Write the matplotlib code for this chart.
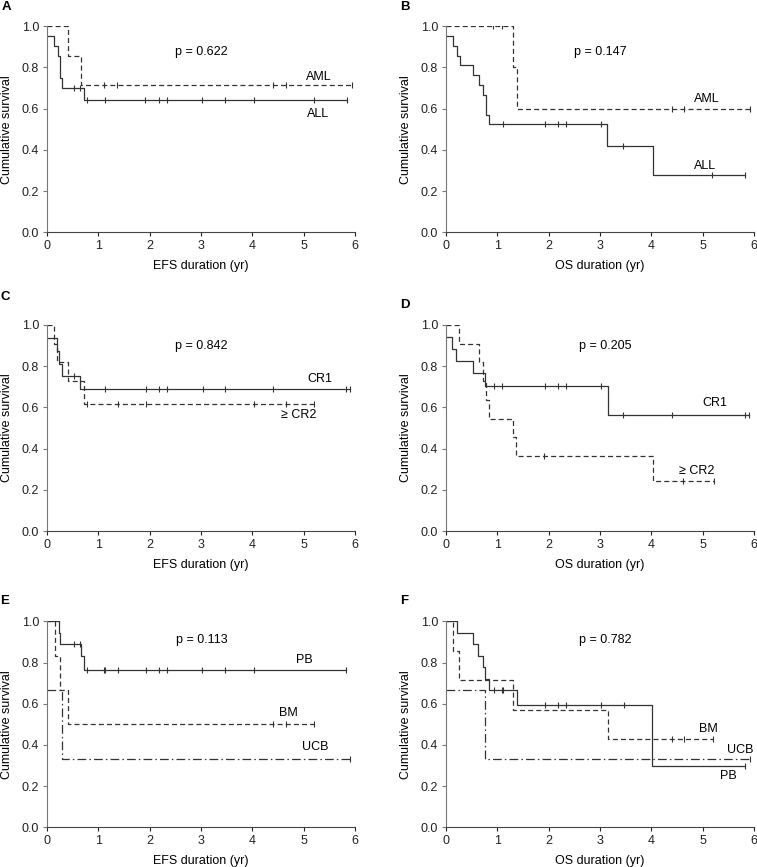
import numpy as np
import matplotlib
matplotlib.use('Agg')
import matplotlib.pyplot as plt

plt.rcParams['font.family'] = ['Liberation Sans', 'DejaVu Sans']
plt.rcParams['font.size'] = 9

# --- data (time in yr, survival after each step) ---
# A: EFS by disease
a_all_t = [0, 0.15, 0.22, 0.25, 0.29, 0.73]
a_all_s = [0.952, 0.905, 0.857, 0.75, 0.70, 0.64]
a_all_c = [0.53, 0.65, 0.78, 1.13, 1.92, 2.18, 2.33, 3.03, 3.47, 4.04, 5.20, 5.85]
a_aml_t = [0, 0.41, 0.67]
a_aml_s = [1.0, 0.857, 0.714]
a_aml_c = [1.12, 1.37, 4.41, 4.65, 5.94]

# B: OS by disease
b_all_t = [0, 0.14, 0.22, 0.27, 0.54, 0.64, 0.73, 0.78, 0.84, 3.14, 4.03]
b_all_s = [0.952, 0.905, 0.857, 0.810, 0.762, 0.714, 0.667, 0.571, 0.524, 0.419, 0.279]
b_all_c = [1.12, 1.93, 2.19, 2.33, 3.03, 3.45, 5.18, 5.82]
b_aml_t = [0, 1.30, 1.38]
b_aml_s = [1.0, 0.8, 0.6]
b_aml_c = [0.92, 1.10, 4.41, 4.64, 5.92]

# C: EFS by disease status
c_cr1_t = [0, 0.21, 0.24, 0.29, 0.65]
c_cr1_s = [0.9375, 0.875, 0.8125, 0.75, 0.6875]
c_cr1_c = [0.53, 1.13, 1.93, 2.18, 2.33, 3.04, 3.47, 4.41, 5.83, 5.90]
c_cr2_t = [0, 0.15, 0.21, 0.42, 0.72]
c_cr2_s = [1.0, 0.909, 0.818, 0.727, 0.618]
c_cr2_c = [0.79, 1.39, 1.93, 4.04, 4.65, 5.20]

# D: OS by disease status
d_cr1_t = [0, 0.12, 0.21, 0.53, 0.77, 3.15]
d_cr1_s = [0.941, 0.882, 0.824, 0.765, 0.706, 0.565]
d_cr1_c = [0.94, 1.10, 1.93, 2.19, 2.33, 3.03, 3.45, 4.41, 5.82, 5.89]
d_cr2_t = [0, 0.25, 0.64, 0.73, 0.79, 0.84, 1.30, 1.37, 4.03]
d_cr2_s = [1.0, 0.909, 0.818, 0.727, 0.636, 0.545, 0.455, 0.364, 0.242]
d_cr2_c = [1.92, 4.62, 5.21]

# E: EFS by stem cell source
e_pb_t = [0, 0.24, 0.26, 0.67, 0.73]
e_pb_s = [1.0, 0.944, 0.889, 0.833, 0.762]
e_pb_c = [0.53, 0.65, 0.78, 1.11, 1.14, 1.39, 1.93, 2.18, 2.33, 3.03, 3.47, 4.04, 5.83]
e_bm_t = [0, 0.16, 0.26, 0.42]
e_bm_s = [1.0, 0.833, 0.667, 0.5]
e_bm_c = [4.41, 4.65, 5.20]
e_ucb_t = [0, 0.30]
e_ucb_s = [0.667, 0.333]
e_ucb_c = [5.90]

# F: OS by stem cell source
f_pb_t = [0, 0.22, 0.53, 0.63, 0.72, 0.76, 0.84, 1.38, 4.02]
f_pb_s = [1.0, 0.944, 0.889, 0.833, 0.778, 0.722, 0.667, 0.593, 0.296]
f_pb_c = [0.94, 1.10, 1.12, 1.93, 2.19, 2.33, 3.03, 3.47, 5.82]
f_bm_t = [0, 0.15, 0.25, 1.31, 3.15]
f_bm_s = [1.0, 0.857, 0.714, 0.571, 0.429]
f_bm_c = [4.41, 4.64, 5.19]
f_ucb_t = [0, 0.77]
f_ucb_s = [0.667, 0.333]
f_ucb_c = [5.92]

SOLID = '-'
DASH = (0, (4, 2.5))
DDOT = (0, (7, 2.5, 1.2, 2.5))
LC = '#333333'


def km(ax, t, s, c, ls):
    end = max(c) if c else t[-1]
    ax.step(list(t) + [end], list(s) + [s[-1]], where='post',
            color=LC, lw=0.9, ls=ls)
    idx = np.searchsorted(t, c, side='right') - 1
    ax.plot(c, np.array(s)[idx], ls='none', marker='|', ms=4.5,
            mew=0.8, color=LC)


def setup(ax, xlabel):
    ax.set_xlim(0, 6)
    ax.set_ylim(0, 1)
    ax.set_xticks(range(7))
    ax.set_yticks(np.arange(0, 1.01, 0.2))
    ax.set_yticklabels(['%.1f' % v for v in np.arange(0, 1.01, 0.2)])
    ax.spines['top'].set_visible(False)
    ax.spines['right'].set_visible(False)
    ax.spines['left'].set_color('#777777')
    ax.spines['bottom'].set_color('#444444')
    ax.tick_params(length=3, width=0.8, pad=2.5, colors='#222222')
    ax.tick_params(axis='y', color='#777777')
    ax.set_xlabel(xlabel, labelpad=6)
    ax.set_ylabel('Cumulative survival', labelpad=6)


fig = plt.figure(figsize=(7.57, 8.67), dpi=100)
W, H = 757.0, 867.0
lefts = [46.7, 445.7]
tops = [26.3, 325.0, 621.3]
aw, ah = 308.5, 206.0
axes = []
for r in range(3):
    for col in range(2):
        axes.append(fig.add_axes([lefts[col] / W, 1 - (tops[r] + ah) / H, aw / W, ah / H]))

# A
ax = axes[0]
km(ax, a_aml_t, a_aml_s, a_aml_c, DASH)
km(ax, a_all_t, a_all_s, a_all_c, SOLID)
setup(ax, 'EFS duration (yr)')
ax.text(3.01, 0.877, 'p = 0.622', ha='center', va='center')
ax.text(5.30, 0.756, 'AML', ha='center', va='center')
ax.text(5.27, 0.573, 'ALL', ha='center', va='center')

# B
ax = axes[1]
km(ax, b_aml_t, b_aml_s, b_aml_c, DASH)
km(ax, b_all_t, b_all_s, b_all_c, SOLID)
setup(ax, 'OS duration (yr)')
ax.text(3.0, 0.877, 'p = 0.147', ha='center', va='center')
ax.text(5.08, 0.646, 'AML', ha='center', va='center')
ax.text(5.05, 0.324, 'ALL', ha='center', va='center')

# C
ax = axes[2]
km(ax, c_cr2_t, c_cr2_s, c_cr2_c, DASH)
km(ax, c_cr1_t, c_cr1_s, c_cr1_c, SOLID)
setup(ax, 'EFS duration (yr)')
ax.text(3.01, 0.90, 'p = 0.842', ha='center', va='center')
ax.text(5.31, 0.736, 'CR1', ha='center', va='center')
ax.text(4.90, 0.563, '≥ CR2', ha='center', va='center')

# D
ax = axes[3]
km(ax, d_cr2_t, d_cr2_s, d_cr2_c, DASH)
km(ax, d_cr1_t, d_cr1_s, d_cr1_c, SOLID)
setup(ax, 'OS duration (yr)')
ax.text(3.1, 0.90, 'p = 0.205', ha='center', va='center')
ax.text(5.24, 0.62, 'CR1', ha='center', va='center')
ax.text(4.88, 0.29, '≥ CR2', ha='center', va='center')

# E
ax = axes[4]
km(ax, e_ucb_t, e_ucb_s, e_ucb_c, DDOT)
km(ax, e_bm_t, e_bm_s, e_bm_c, DASH)
km(ax, e_pb_t, e_pb_s, e_pb_c, SOLID)
setup(ax, 'EFS duration (yr)')
ax.text(3.01, 0.908, 'p = 0.113', ha='center', va='center')
ax.text(5.02, 0.814, 'PB', ha='center', va='center')
ax.text(4.70, 0.554, 'BM', ha='center', va='center')
ax.text(5.22, 0.392, 'UCB', ha='center', va='center')

# F
ax = axes[5]
km(ax, f_ucb_t, f_ucb_s, f_ucb_c, DDOT)
km(ax, f_bm_t, f_bm_s, f_bm_c, DASH)
km(ax, f_pb_t, f_pb_s, f_pb_c, SOLID)
setup(ax, 'OS duration (yr)')
ax.text(3.1, 0.908, 'p = 0.782', ha='center', va='center')
ax.text(5.11, 0.476, 'BM', ha='center', va='center')
ax.text(5.98, 0.376, 'UCB', ha='right', va='center', clip_on=False)
ax.text(5.50, 0.251, 'PB', ha='center', va='center')

# panel letters
for letter, (px, py) in zip('ABCDEF', [(1.5, 6.7), (400, 6.7), (0.5, 297),
                                       (400, 305), (0.5, 600.7), (400, 600.7)]):
    fig.text(px / W, 1 - py / H, letter, fontweight='bold', fontsize=9.5,
             ha='left', va='center')

fig.savefig('out.png', dpi=100)
